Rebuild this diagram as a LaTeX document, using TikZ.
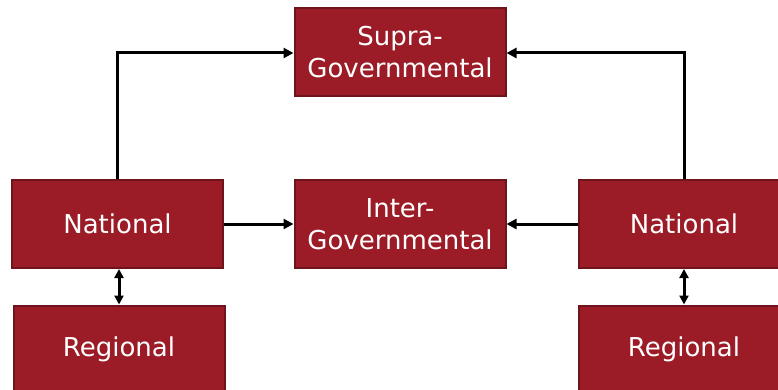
\documentclass[tikz,border=0pt]{standalone}
\usepackage{fontspec}
\setmainfont{DejaVu Sans}
\usetikzlibrary{arrows.meta}
\definecolor{boxfill}{HTML}{9B1C26}
\definecolor{boxline}{HTML}{6E141C}
\begin{document}
\begin{tikzpicture}[x=1pt,y=-1pt,
  box/.style={rectangle, fill=boxfill, draw=boxline, line width=2pt,
    minimum width=211pt, minimum height=88pt, inner sep=0pt,
    text=white, font=\fontsize{26}{32}\selectfont, align=center},
  conn/.style={line width=3pt, -{Triangle[length=10pt,width=10pt]}},
  biconn/.style={line width=3pt, {Triangle[length=9pt,width=9pt]}-{Triangle[length=9pt,width=9pt]}}]
\useasboundingbox (0,0) rectangle (778,390);
\clip (0,0) rectangle (778,390);
\node[box] (supra) at (400,52.5) {Supra-\\Governmental};
\node[box] (inter) at (400,224) {Inter-\\Governmental};
\node[box] (natL) at (117.5,224) {National};
\node[box] (natR) at (684,224) {National};
\node[box] (regL) at (119,349.5) {Regional};
\node[box] (regR) at (684,349.5) {Regional};
\coordinate (cL) at (117,53);
\coordinate (cR) at (684,53);
\draw[conn] (natL.north -| cL) -- (cL) -- (supra.west |- cL);
\draw[conn] (natR.north -| cR) -- (cR) -- (supra.east |- cR);
\draw[conn] (natL.east) -- (inter.west);
\draw[conn] (natR.west) -- (inter.east);
\draw[biconn] (natL.south -| regL) -- (regL.north);
\draw[biconn] (natR.south) -- (regR.north);
\end{tikzpicture}
\end{document}
